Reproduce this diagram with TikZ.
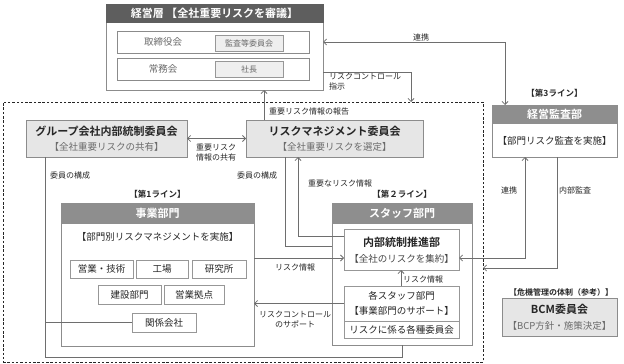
\documentclass[tikz,border=0pt]{standalone}
\usepackage{fontspec}
\setmainfont{Noto Sans CJK JP}[BoldFont={Noto Sans CJK JP Bold}]
\usetikzlibrary{arrows.meta,positioning,calc}
\definecolor{lnc}{HTML}{6E6E6E}
\definecolor{bdc}{HTML}{8C8C8C}
\definecolor{hdark}{HTML}{5E5E5E}
\definecolor{hmid}{HTML}{8E8E8E}
\definecolor{lfill}{HTML}{E6E6E6}
\definecolor{sfill}{HTML}{EFEFEF}
\definecolor{subc}{HTML}{6A6A6A}
\definecolor{txc}{HTML}{262626}
\tikzset{
  every node/.style={text=txc, inner sep=0pt, outer sep=0pt},
  outerbox/.style={draw=bdc, fill=white, line width=0.8pt, rectangle},
  lightbox/.style={draw=bdc, fill=lfill, line width=0.8pt, rectangle},
  hdrdark/.style={fill=hdark, draw=hdark, line width=0.8pt, text=white, font=\fontsize{11}{13}\selectfont\bfseries},
  hdrmid/.style={fill=hmid, draw=hmid, line width=0.8pt, text=white, font=\fontsize{11}{13}\selectfont\bfseries},
  rowbox/.style={draw=lnc!80, fill=white, line width=0.7pt},
  smallbox/.style={draw=bdc!90, fill=sfill, line width=0.7pt, font=\fontsize{8}{9}\selectfont, text=subc},
  deptbox/.style={draw=bdc!90, fill=white, line width=0.7pt, font=\fontsize{9.5}{11}\selectfont},
  ttl/.style={font=\fontsize{11}{13}\selectfont\bfseries},
  subt/.style={font=\fontsize{9.5}{11}\selectfont, text=subc},
  body/.style={font=\fontsize{9.5}{11}\selectfont},
  lbl/.style={font=\fontsize{8}{10}\selectfont},
  linelbl/.style={font=\fontsize{8.5}{10}\selectfont\bfseries},
  conn/.style={draw=lnc, line width=0.8pt},
  arr/.style={conn, -{Straight Barb[length=3pt,width=6pt]}},
  darr/.style={conn, {Straight Barb[length=3pt,width=6pt]}-{Straight Barb[length=3pt,width=6pt]}},
  dframe/.style={draw=txc, line width=0.7pt, dash pattern=on 2.5pt off 1.8pt}
}
\begin{document}
\begin{tikzpicture}[x=1pt,y=-1pt]
\useasboundingbox (0,0) rectangle (624,364);
% dashed frame
\node[dframe, minimum width=480, minimum height=260] (frame) at (243,232) {};
% top management box
\node[outerbox, minimum width=217, minimum height=86] (top) at (214.5,47) {};
\node[hdrdark, minimum width=217, minimum height=18, anchor=north] (tophdr) at (top.north) {経営層 【全社重要リスクを審議】};
\node[rowbox, minimum width=192, minimum height=22] (rowA) at (213,42) {};
\node[rowbox, minimum width=192, minimum height=22] (rowB) at (213,69) {};
\node[body, text=subc] (tori) at (163,42) {取締役会};
\node[body, text=subc] (jomu) at (163,69) {常務会};
\node[smallbox, minimum width=68, minimum height=16] (kansa) at (249,43) {監査等委員会};
\node[smallbox, minimum width=68, minimum height=16] (shacho) at (249,69) {社長};
% group committee
\node[lightbox, minimum width=161, minimum height=37] (grp) at (106.5,138.5) {};
\node[ttl] (grpt) at (106.5,131) {グループ会社内部統制委員会};
\node[subt] (grps) at (106.5,147) {【全社重要リスクの共有】};
% risk management committee
\node[lightbox, minimum width=177, minimum height=37] (rm) at (334.5,138.5) {};
\node[ttl] (rmt) at (334.5,131) {リスクマネジメント委員会};
\node[subt] (rms) at (334.5,147) {【全社重要リスクを選定】};
% audit
\node[linelbl] (l3) at (554.5,93) {【第3ライン】};
\node[outerbox, minimum width=125, minimum height=52] (audit) at (554.5,131) {};
\node[hdrmid, minimum width=125, minimum height=18, anchor=north] (audith) at (audit.north) {経営監査部};
\node[body] (audits) at (554.5,141) {【部門リスク監査を実施】};
% first line
\node[linelbl] (l1) at (157.5,194) {【第1ライン】};
\node[outerbox, minimum width=193, minimum height=143] (jigyo) at (157.5,274.5) {};
\node[hdrmid, minimum width=193, minimum height=20, anchor=north] (jigyoh) at (jigyo.north) {事業部門};
\node[body] (jigyos) at (157.5,237) {【部門別リスクマネジメントを実施】};
\node[deptbox, minimum width=63, minimum height=18] (eigyo) at (101.5,269) {営業・技術};
\node[deptbox, minimum width=52, minimum height=18] (kojo) at (162,269) {工場};
\node[deptbox, minimum width=54, minimum height=18] (kenkyu) at (219,269) {研究所};
\node[deptbox, minimum width=63, minimum height=19] (kensetsu) at (129.5,294.5) {建設部門};
\node[deptbox, minimum width=60, minimum height=19] (kyoten) at (194,294.5) {営業拠点};
\node[deptbox, minimum width=64, minimum height=19] (kankei) at (164,322.5) {関係会社};
% second line
\node[linelbl] (l2) at (402,194) {【第２ライン】};
\node[outerbox, minimum width=140, minimum height=142] (staff) at (402,274) {};
\node[hdrmid, minimum width=140, minimum height=20, anchor=north] (staffh) at (staff.north) {スタッフ部門};
\node[deptbox, minimum width=115, minimum height=41] (naibu) at (401.5,249.5) {};
\node[ttl] (naibut) at (401.5,242) {内部統制推進部};
\node[body, text=txc!85] (naibus) at (401.5,259) {【全社のリスクを集約】};
\node[deptbox, minimum width=115, minimum height=35] (kaku) at (401.5,303.5) {};
\node[body] (kakut) at (401.5,296) {各スタッフ部門};
\node[body] (kakus) at (401.5,311) {【事業部門のサポート】};
\node[deptbox, minimum width=115, minimum height=17] (iinkai) at (401.5,329.5) {リスクに係る各種委員会};
% BCM
\node[linelbl, font=\fontsize{8}{10}\selectfont\bfseries] (crisis) at (561,292) {【危機管理の体制（参考）】};
\node[lightbox, minimum width=115, minimum height=38] (bcm) at (559.5,317) {};
\node[ttl] (bcmt) at (559.5,309) {BCM委員会};
\node[subt] (bcms) at (559.5,326) {【BCP方針・施策決定】};

% connector coordinates
\coordinate (renkeiX) at (505,0);
\coordinate (ctrlX) at (411,0);
\coordinate (rptX) at (264,0);
\coordinate (loopL) at (45,357);
\coordinate (memX) at (285,0);
\coordinate (impX) at (298,0);
\coordinate (renkei2X) at (525,0);
\coordinate (auditX) at (557,0);
\coordinate (upX) at (401,0);

% connectors
\draw[darr] (audit.north -| renkeiX) |- (rowA.center -| top.east);
\draw[arr] ([yshift=-3]rowB.center -| top.east) -| (frame.north -| ctrlX);
\draw[arr] (rm.north -| rptX) -- (top.south -| rptX);
\draw[darr] (grp.east) -- (rm.west);
\draw[conn] (staff.south) |- (loopL) -- (loopL |- grp.south);
\draw[conn] (kankei.west) -- (kankei.west -| loopL);
\draw[conn] (rm.south -| memX) |- ([yshift=28]staff.west);
\draw[arr] ([yshift=13.5]naibu.west) -| (rm.south -| impX);
\draw[arr] ([yshift=-8.5]naibu.west -| jigyo.east) -- ([yshift=-8.5]naibu.west);
\draw[arr] (kaku.west) -- (kaku.west -| jigyo.east);
\draw[arr] (kaku.north -| upX) -- (naibu.south -| upX);
\draw[darr] ([yshift=-8.5]naibu.east) -| (audit.south -| renkei2X);
\draw[arr] (audit.south -| auditX) |- ([yshift=-36]frame.east);

% connector labels
\node[lbl] (t1) at (421,37) {連携};
\node[lbl, align=left, anchor=west] (t2) at (329,82) {リスクコントロール\\指示};
\node[lbl, anchor=west] (t3) at (269,111) {重要リスク情報の報告};
\node[lbl, align=center] (t4) at (216,152) {重要リスク\\情報の共有};
\node[lbl, anchor=west] (t5) at (50,175) {委員の構成};
\node[lbl] (t6) at (257,175) {委員の構成};
\node[lbl, anchor=west] (t7) at (308,183) {重要なリスク情報};
\node[lbl] (t8) at (295,267) {リスク情報};
\node[lbl, align=center] (t9) at (295,319) {リスクコントロール\\のサポート};
\node[lbl, anchor=west] (t10) at (403,279) {リスク情報};
\node[lbl] (t11) at (509,190) {連携};
\node[lbl] (t12) at (575,190) {内部監査};
\end{tikzpicture}
\end{document}
